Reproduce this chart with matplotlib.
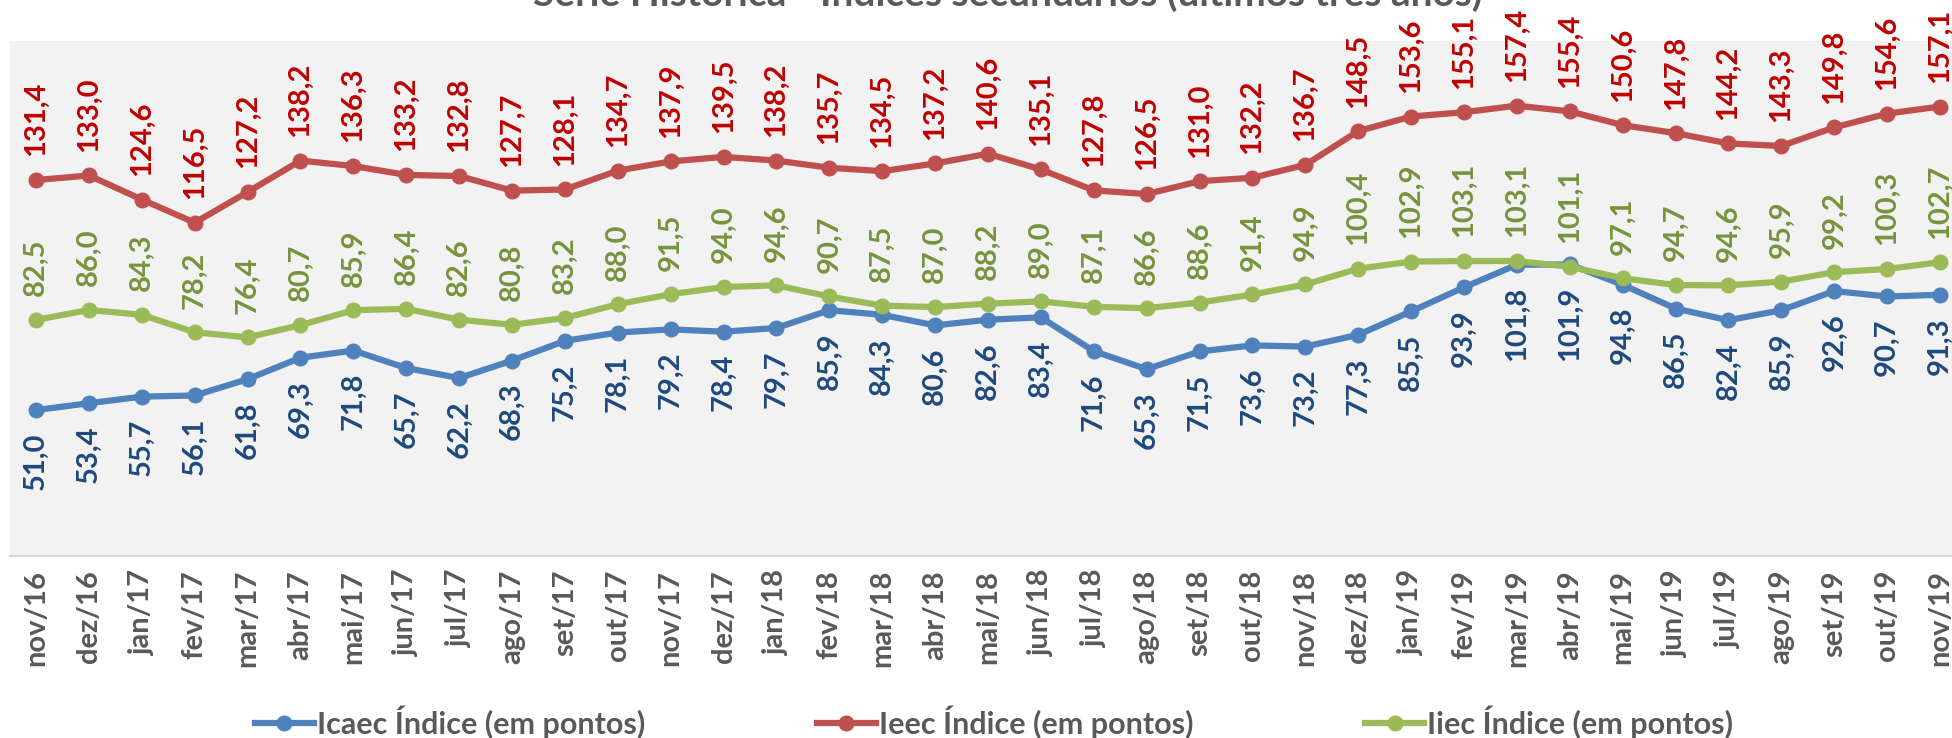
import matplotlib.pyplot as plt

months = ["nov/16", "dez/16", "jan/17", "fev/17", "mar/17", "abr/17", "mai/17",
          "jun/17", "jul/17", "ago/17", "set/17", "out/17", "nov/17", "dez/17",
          "jan/18", "fev/18", "mar/18", "abr/18", "mai/18", "jun/18", "jul/18",
          "ago/18", "set/18", "out/18", "nov/18", "dez/18", "jan/19", "fev/19",
          "mar/19", "abr/19", "mai/19", "jun/19", "jul/19", "ago/19", "set/19",
          "out/19", "nov/19"]

icaec = [51.0, 53.4, 55.7, 56.1, 61.8, 69.3, 71.8, 65.7, 62.2, 68.3, 75.2, 78.1,
         79.2, 78.4, 79.7, 85.9, 84.3, 80.6, 82.6, 83.4, 71.6, 65.3, 71.5, 73.6,
         73.2, 77.3, 85.5, 93.9, 101.8, 101.9, 94.8, 86.5, 82.4, 85.9, 92.6, 90.7,
         91.3]

ieec = [131.4, 133.0, 124.6, 116.5, 127.2, 138.2, 136.3, 133.2, 132.8, 127.7,
        128.1, 134.7, 137.9, 139.5, 138.2, 135.7, 134.5, 137.2, 140.6, 135.1,
        127.8, 126.5, 131.0, 132.2, 136.7, 148.5, 153.6, 155.1, 157.4, 155.4,
        150.6, 147.8, 144.2, 143.3, 149.8, 154.6, 157.1]

iiec = [82.5, 86.0, 84.3, 78.2, 76.4, 80.7, 85.9, 86.4, 82.6, 80.8, 83.2, 88.0,
        91.5, 94.0, 94.6, 90.7, 87.5, 87.0, 88.2, 89.0, 87.1, 86.6, 88.6, 91.4,
        94.9, 100.4, 102.9, 103.1, 103.1, 101.1, 97.1, 94.7, 94.6, 95.9, 99.2,
        100.3, 102.7]

plt.rcParams["font.family"] = "Lato"

fig = plt.figure(figsize=(19.52, 7.38), dpi=100)
# plot area runs a little past the right edge, as in the cropped original
ax = fig.add_axes([9.6 / 1952, 1 - 556 / 738, 1956.8 / 1952, 515 / 738])
ax.set_facecolor("#F2F2F2")

x = list(range(len(months)))

# (legend name, values, line colour, label colour, label offset in points)
series = [
    ("Icaec Índice (em pontos)", icaec, "#4F81BD", "#1F497D", -16),
    ("Ieec Índice (em pontos)", ieec, "#C0504D", "#C00000", 17),
    ("Iiec Índice (em pontos)", iiec, "#9BBB59", "#77933C", 17),
]

for name, values, color, label_color, offset in series:
    ax.plot(x, values, color=color, lw=4.5, marker="o", markersize=10.5,
            label=name)
    for i, v in enumerate(values):
        ax.annotate(f"{v:.1f}".replace(".", ","), (i, v), xytext=(0, offset),
                    textcoords="offset points", rotation=90, ha="center",
                    va="bottom" if offset > 0 else "top", color=label_color,
                    fontsize=21, fontweight="bold", annotation_clip=False)

ax.set_xlim(-0.5, len(months) - 0.5)
ax.set_ylim(0, 180)
ax.set_yticks([])
ax.set_xticks(x)
ax.set_xticklabels(months, rotation=90, fontsize=21, fontweight="bold",
                   color="#595959")
ax.tick_params(axis="x", length=0, pad=10)
for side in ["top", "left", "right"]:
    ax.spines[side].set_visible(False)
ax.spines["bottom"].set_color("#D9D9D9")
ax.spines["bottom"].set_linewidth(1.5)

fig.legend(loc="center", bbox_to_anchor=(994 / 1952, 1 - 722 / 738), ncol=3,
           frameon=False, prop={"size": 22, "weight": "bold"},
           labelcolor="#595959", handlelength=1.95, handletextpad=0.1,
           columnspacing=5.6)

fig.text(1008 / 1952, 1 - 6 / 738,
         "Série Histórica - Índices secundários (últimos três anos)",
         ha="center", va="baseline", fontsize=28, fontweight="bold",
         color="#595959")

plt.savefig("out.png", dpi=100)
